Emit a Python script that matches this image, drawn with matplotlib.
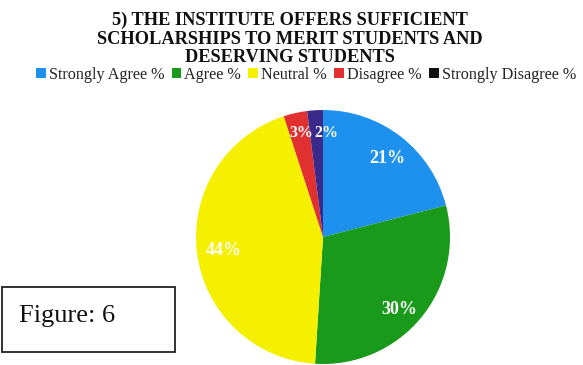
import matplotlib
matplotlib.use("Agg")
import matplotlib.pyplot as plt
from matplotlib.patches import Rectangle, Patch

categories = ["Strongly Agree %", "Agree %", "Neutral %", "Disagree %", "Strongly Disagree %"]
values = [21, 30, 44, 3, 2]
colors = ["#1e90ee", "#1a9a1a", "#f5f000", "#e03030", "#3a2a8a"]
legend_colors = ["#1e90ee", "#1a9a1a", "#f5f000", "#e03030", "#111111"]
title_lines = ["5) THE INSTITUTE OFFERS SUFFICIENT",
               "SCHOLARSHIPS TO MERIT STUDENTS AND",
               "DESERVING STUDENTS"]

plt.rcParams['font.family'] = ['Liberation Serif', 'DejaVu Serif']

W, H = 583, 365
fig = plt.figure(figsize=(W / 100, H / 100), dpi=100)

cx, cy, r = 323, 237, 127
ax = fig.add_axes([(cx - r) / W, (H - cy - r) / H, 2 * r / W, 2 * r / H])
wedges, texts, autotexts = ax.pie(values, colors=colors, startangle=90, counterclock=False,
                                  autopct=lambda p: f"{p:.0f}%", pctdistance=0.82,
                                  textprops=dict(color="white", fontweight="bold", fontsize=13))
autotexts[0].set_position((0.51, 0.62))
autotexts[1].set_position((0.6, -0.57))
autotexts[2].set_position((-0.78, -0.11))
for t in autotexts[3:]:
    t.set_fontsize(11.5)
autotexts[3].set_position((-0.17, 0.82))
autotexts[4].set_position((0.03, 0.82))
ax.set_xlim(-1, 1)
ax.set_ylim(-1, 1)
ax.set_aspect('equal')
ax.axis('off')

for line, y in zip(title_lines, [25, 43.5, 62]):
    fig.text(290 / W, 1 - y / H, line, ha="center", va="baseline",
             fontsize=13.2, fontweight="bold", color="#111111")

handles = [Patch(facecolor=c, edgecolor="none") for c in legend_colors]
fig.legend(handles, categories, loc="center", bbox_to_anchor=(306 / W, 1 - 75 / H), ncol=5,
           frameon=False, fontsize=11.6, handlelength=0.6, handleheight=0.6,
           handletextpad=0.2, columnspacing=0.45, borderpad=0, labelcolor="#222222")

fig.patches.append(Rectangle((2 / W, (H - 352) / H), 173 / W, 65 / H, transform=fig.transFigure,
                             facecolor="white", edgecolor="#222222", linewidth=1.3))
fig.text(19 / W, (H - 316) / H, "Figure: 6", ha="left", va="center", fontsize=19, color="#111111")

fig.savefig("out.png", dpi=100)
